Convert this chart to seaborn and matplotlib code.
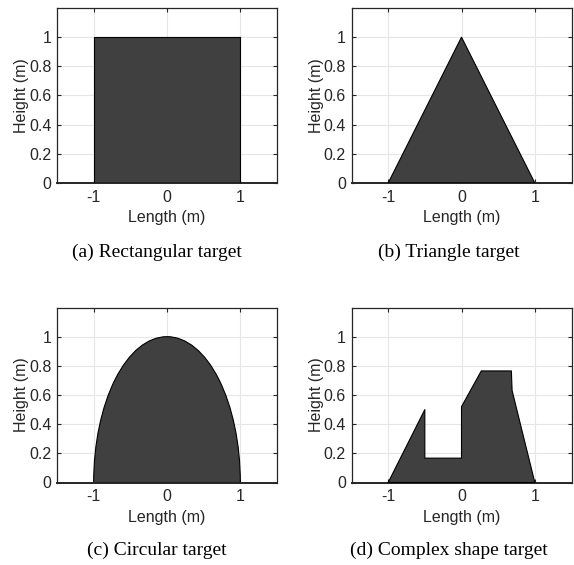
import numpy as np
import pandas as pd
import matplotlib
matplotlib.use("Agg")
import matplotlib.pyplot as plt
from matplotlib.patches import Wedge
import seaborn as sns

# ---- data ----
rect_x = [-1, -1, 1, 1, -1]
rect_y = [0, 1, 1, 0, 0]
tri_x = [-1, 0, 1, -1]
tri_y = [0, 1, 0, 0]
circle_center = (0.0, 0.0)
circle_radius = 1.0
complex_x = [-1, -0.5, -0.5, 0, 0, 0.27, 0.68, 0.69, 1, -1]
complex_y = [0, 0.50, 0.167, 0.167, 0.52, 0.765, 0.765, 0.63, 0, 0]
captions = ["(a) Rectangular target", "(b) Triangle target",
            "(c) Circular target", "(d) Complex shape target"]
xticks = [-1, 0, 1]
xtick_labels = ["-1", "0", "1"]
yticks = [0, 0.2, 0.4, 0.6, 0.8, 1]
ytick_labels = ["0", "0.2", "0.4", "0.6", "0.8", "1"]

sns.set_theme(style="whitegrid")
plt.rcParams["font.family"] = ["Liberation Sans", "DejaVu Sans"]
plt.rcParams["axes.unicode_minus"] = False

W, H = 574, 565
fig = plt.figure(figsize=(W / 100, H / 100), dpi=100)

ax_w, ax_h = 220, 175
lefts = [57, 351.5]
tops = [8, 307.5]
fill_col = "#404040"

axes = []
for r in range(2):
    for c in range(2):
        l = lefts[c]
        t = tops[r]
        ax = fig.add_axes([l / W, 1 - (t + ax_h) / H, ax_w / W, ax_h / H])
        axes.append(ax)

shapes = [(rect_x, rect_y), (tri_x, tri_y), None, (complex_x, complex_y)]

for i, ax in enumerate(axes):
    ax.set_facecolor("white")
    ax.set_axisbelow(True)
    ax.grid(True, color="#e6e6e6", linewidth=0.8)
    if shapes[i] is not None:
        xs, ys = shapes[i]
        ax.fill(xs, ys, facecolor=fill_col, edgecolor="none", zorder=2)
        df = pd.DataFrame({"x": xs, "y": ys})
        sns.lineplot(data=df, x="x", y="y", sort=False, ax=ax, color="black",
                     linewidth=0.8, estimator=None, zorder=3)
    else:
        w = Wedge(circle_center, circle_radius, 0, 180, facecolor=fill_col,
                  edgecolor="black", linewidth=0.8, zorder=2)
        ax.add_patch(w)
    ax.set_xlim(-1.5, 1.5)
    ax.set_ylim(0, 1.2)
    ax.set_xticks(xticks)
    ax.set_xticklabels(xtick_labels)
    ax.set_yticks(yticks)
    ax.set_yticklabels(ytick_labels)
    ax.tick_params(direction="in", length=3, width=0.8, colors="#262626",
                   labelsize=11.5, left=True, bottom=True, right=True, top=True)
    ax.tick_params(axis="y", pad=4.0)
    ax.tick_params(axis="x", pad=5)
    for s in ax.spines.values():
        s.set_visible(True)
        s.set_color("#262626")
        s.set_linewidth(0.9)
    ax.spines["bottom"].set_linewidth(1.4)
    ax.set_xlabel("Length (m)", fontsize=11.5, color="#262626", va="center")
    ax.set_ylabel("Height (m)", fontsize=11.5, color="#262626", va="center")
    ax.xaxis.set_label_coords(0.5, -35 / ax_h)
    ax.yaxis.set_label_coords(-35 / ax_w, 0.5)

cap_x = [157, 449]
cap_y = [252, 550]
for i, cap in enumerate(captions):
    r, c = divmod(i, 2)
    fig.text(cap_x[c] / W, 1 - cap_y[r] / H, cap, ha="center", va="center",
             fontsize=14, family=["Liberation Serif", "DejaVu Serif"],
             color="black")

fig.savefig("out.png", dpi=100)
